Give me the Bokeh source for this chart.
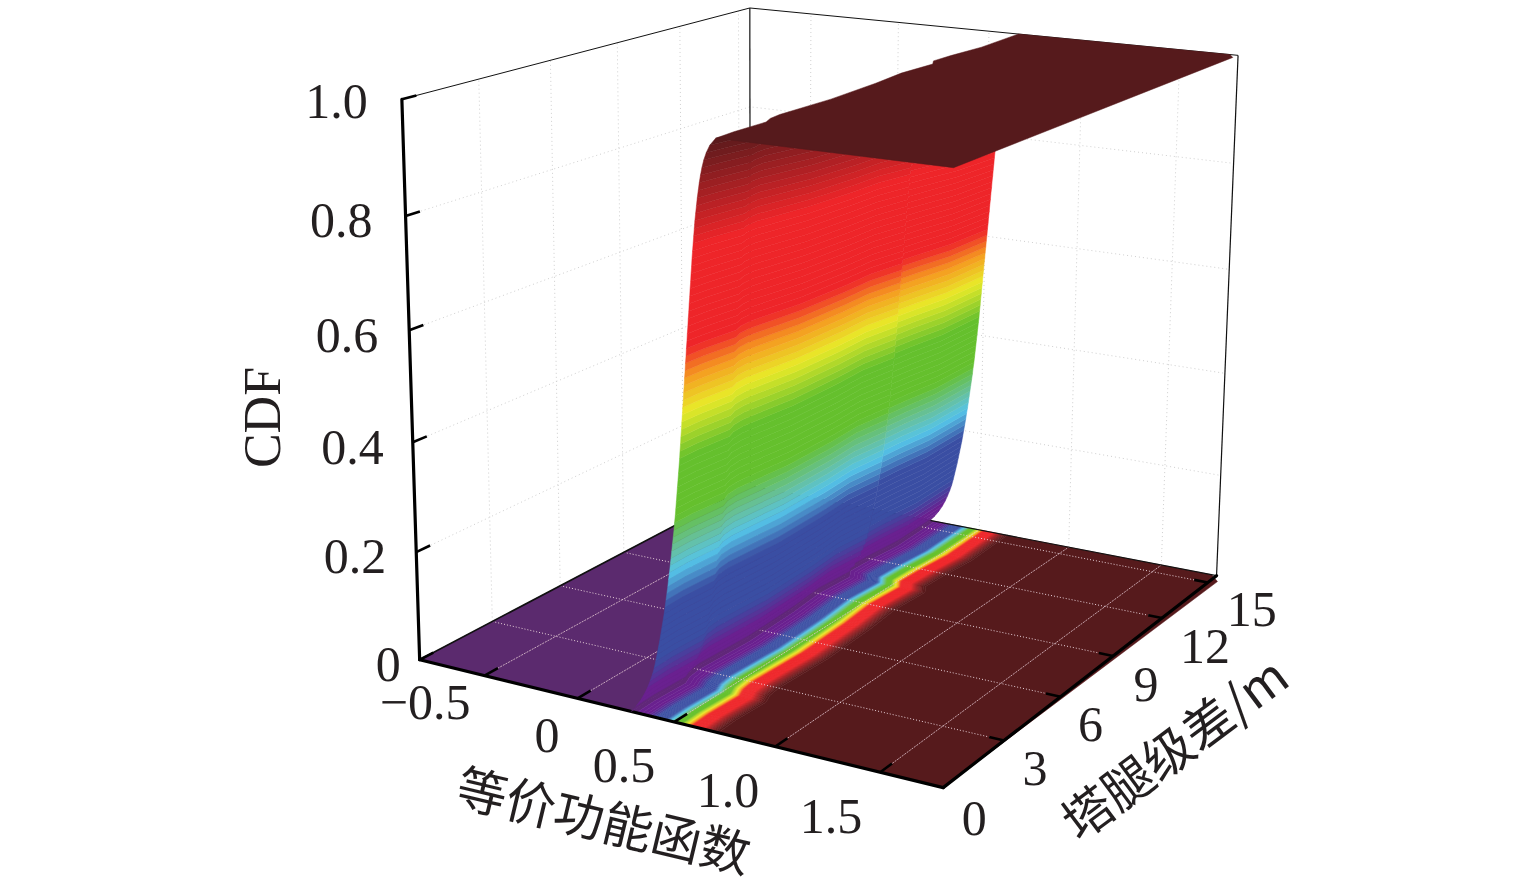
import numpy as np
from bokeh.plotting import figure
from bokeh.core.properties import value
from bokeh.embed import file_html
from bokeh.resources import INLINE

# ---- data ----
x_ticks = [-0.5, 0.0, 0.5, 1.0, 1.5]
x_labels = ["\u22120.5", "0", "0.5", "1.0", "1.5"]
y_ticks = [0, 3, 6, 9, 12, 15]
y_labels = ["0", "3", "6", "9", "12", "15"]
z_ticks = [0.0, 0.2, 0.4, 0.6, 0.8, 1.0]
z_labels = ["0", "0.2", "0.4", "0.6", "0.8", "1.0"]
x_title = "\u7b49\u4ef7\u529f\u80fd\u51fd\u6570"
y_title = "\u5854\u817f\u7ea7\u5dee/m"
z_title = "CDF"

x_min, x_max = -0.86, 1.79
y_min, y_max = 0.0, 15.6

# equivalent function value at which the CDF reaches each of 81 levels, at tower-leg difference 0
x_at_level = [.280, .307, .330, .349, .365, .378, .390, .400, .408, .415, .422, .429, .435, .441, .447, .453,
              .458, .463, .468, .473, .477, .482, .486, .490, .494, .498, .502, .506, .509, .513, .516, .519,
              .522, .525, .528, .531, .534, .537, .539, .542, .544, .547, .549, .552, .554, .557, .559, .562,
              .564, .567, .569, .572, .574, .577, .579, .582, .584, .587, .589, .592, .594, .597, .599, .602,
              .604, .607, .610, .613, .616, .619, .623, .627, .631, .636, .641, .647, .654, .663, .675, .692, .720]
# the same levels as their projected contours appear on the floor
floor_x_at_level = [.280, .307, .330, .349, .365, .378, .390, .400, .408, .415, .422, .429, .435, .441, .447, .453,
                    .458, .463, .468, .473, .477, .482, .486, .490, .494, .498, .502, .506, .509, .513, .516, .519,
                    .522, .525, .528, .531, .534, .537, .540, .544, .548, .552, .556, .560, .564, .567, .570, .573,
                    .576, .579, .582, .585, .589, .593, .597, .601, .605, .609, .613, .617, .621, .625, .629, .633,
                    .637, .641, .645, .649, .653, .657, .661, .665, .669, .673, .678, .683, .688, .694, .700, .708, .720]
cdf_levels = [i / 80 for i in range(81)]
# shift of the surface along the tower-leg difference, and how far its levels sag there
y_nodes = [0, .8, 2.1, 2.5, 3, 5.2, 7.5, 9, 10.5, 10.9, 11.8, 13.3, 15.6]
x_wobble = [0, -.005, .004, -.02, -.029, -.014, -.028, -.049, -.035, -.07, -.066, -.047, -.061]
level_sag = [0, .003, .007, .009, .010, .018, .026, .032, .037, .038, .042, .047, .055]

# colour map of the CDF
cmap_levels = [0, .02, .045, .10, .20, .26, .30, .36, .46, .54, .60, .65, .82, 1.0]
cmap_colors = ["#5b2a6e", "#6a2090", "#6a2090", "#3a4ea3", "#3a4ea3", "#55c4e8", "#66c0a0", "#65c02d",
               "#65c02d", "#e8ea28", "#f59a20", "#ee2529", "#ee2529", "#561a1c"]

# ---- projection: box corners (u, v, w) to page pixels ----
corner_uvw = np.array([[0,0,0],[1,0,0],[1,1,0],[0,1,0],[0,0,1],[1,0,1],[1,1,1],[0,1,1]], float)
corner_px = np.array([[421,661],[942,787],[1217,575],[748,484],[401,99],[952,165],[1238,57],[750,7]], float)
rows = []
for (u, v, w), (a, b) in zip(corner_uvw, corner_px):
    rows.append([u, v, w, 1, 0, 0, 0, 0, -a*u, -a*v, -a*w, -a])
    rows.append([0, 0, 0, 0, u, v, w, 1, -b*u, -b*v, -b*w, -b])
P = np.linalg.svd(np.array(rows))[2][-1].reshape(3, 4)

def proj(x, y, z):
    x, y, z = np.broadcast_arrays(np.asarray(x, float), np.asarray(y, float), np.asarray(z, float))
    q = P @ np.vstack([(x-x_min)/(x_max-x_min), (y-y_min)/(y_max-y_min), z, np.ones_like(x, dtype=float)])
    return (q[0]/q[2]).tolist(), (q[1]/q[2]).tolist()

def hex2rgb(h):
    return np.array([int(h[i:i+2], 16) for i in (1, 3, 5)], float)
cm = np.array([hex2rgb(c) for c in cmap_colors])
def colour(z):
    return "#%02x%02x%02x" % tuple(int(round(np.interp(z, cmap_levels, cm[:, k]))) for k in range(3))

p = figure(width=1535, height=885, x_range=(0, 1535), y_range=(885, 0), output_backend="svg",
           toolbar_location=None, x_axis_type=None, y_axis_type=None, min_border=0, outline_line_color=None)
p.grid.visible = False

# ---- wall grids ----
gx, gy = [], []
for y in y_ticks[1:]:
    a, b = proj([x_min, x_min], [y, y], [0, 1]); gx.append(a); gy.append(b)
for x in x_ticks:
    a, b = proj([x, x], [y_max, y_max], [0, 1]); gx.append(a); gy.append(b)
for z in z_ticks[1:-1]:
    a, b = proj([x_min, x_min, x_max], [y_min, y_max, y_max], [z, z, z]); gx.append(a); gy.append(b)
p.multi_line(gx, gy, line_color="#cfcfcf", line_width=1, line_dash="1 3")

# ---- floor ----
ys = np.array(y_nodes, float)
wob = np.array(x_wobble, float)
sag = np.array(level_sag, float)
xa = np.array(x_at_level)
xf = np.array(floor_x_at_level)
fx, fy = proj([x_min, x_min], [y_min, y_max], 0)
a, b = proj(xf[0] + wob[::-1], ys[::-1], 0)
p.patch(fx + a, fy + b, fill_color=colour(0), line_color=colour(0), line_width=0.5)
floor_end_x = [x_max, x_max + .035, x_max - .025]
floor_end_y = [y_min, 15.2, y_max]
a, b = proj(list(floor_end_x) + list(xf[-1] + wob[::-1]), list(floor_end_y) + list(ys[::-1]), 0)
p.patch(a, b, fill_color=colour(1), line_color=colour(1), line_width=0.5)

bx, by, bc = [], [], []
for i in range(len(xf) - 1):
    a1, b1 = proj(xf[i] + wob, ys, 0)
    a2, b2 = proj(xf[i+1] + wob[::-1], ys[::-1], 0)
    bx.append(a1 + a2); by.append(b1 + b2); bc.append(colour((cdf_levels[i] + cdf_levels[i+1]) / 2))
p.patches(bx, by, fill_color=bc, line_color=bc, line_width=0.5)

# ---- floor grid ----
gx, gy = [], []
for x in x_ticks:
    a, b = proj([x, x], [y_min, y_max], 0); gx.append(a); gy.append(b)
p.multi_line(gx, gy, line_color="#e3c8d2", line_width=0.8, line_dash="2 1")
gx, gy = [], []
for y in y_ticks[1:]:
    a, b = proj([x_min, x_max], [y, y], 0); gx.append(a); gy.append(b)
p.multi_line(gx, gy, line_color="#e8d2da", line_width=1, line_dash="1 2")

# ---- box edges ----
for (xs_, ys_, zs_, w_) in [
    ([x_min, x_min], [y_max, y_max], [0, 1], 1.2),
    ([x_max, x_max], [y_max, y_max], [0, 1], 1.2),
    ([x_min, x_min], [y_min, y_max], [1, 1], 1.0),
    ([x_min, x_max], [y_max, y_max], [1, 1], 1.0),
    ([x_min, x_min], [y_min, y_max], [0, 0], 1.6),
    ([x_min, x_max], [y_max, y_max], [0, 0], 1.2),
]:
    a, b = proj(xs_, ys_, zs_)
    p.line(a, b, line_color="#111111", line_width=w_)

for (xs_, ys_, zs_) in [
    ([x_min, x_min], [y_min, y_min], [0, 1]),
    ([x_min, x_max], [y_min, y_min], [0, 0]),
    ([x_max, x_max], [y_min, y_max], [0, 0]),
]:
    a, b = proj(xs_, ys_, zs_)
    p.line(a, b, line_color="#000000", line_width=3.2, line_cap="round")

tx, ty = [], []
for x in x_ticks:
    a, b = proj([x, x], [0, .55], 0); tx.append(a); ty.append(b)
for y in y_ticks[1:]:
    a, b = proj([x_max, x_max - .07], [y, y], 0); tx.append(a); ty.append(b)
for z in z_ticks:
    a, b = proj([x_min, x_min], [0, .55], z); tx.append(a); ty.append(b)
p.multi_line(tx, ty, line_color="#000000", line_width=2.6)

# ---- surface wall, then plateau in front of it ----
bx, by, bc = [], [], []
for i in range(len(xa) - 1):
    a1, b1 = proj(xa[i] + wob, ys, cdf_levels[i] * (1 - sag))
    a2, b2 = proj(xa[i+1] + wob[::-1], ys[::-1], cdf_levels[i+1] * (1 - sag[::-1]))
    bx.append(a1 + a2); by.append(b1 + b2); bc.append(colour((cdf_levels[i] + cdf_levels[i+1]) / 2))
p.patches(bx, by, fill_color=bc, line_color=bc, line_width=0.5)

plateau_end_x = [x_max, x_max, x_max - .04]
plateau_end_y = [y_min, 15.25, y_max]
a, b = proj(plateau_end_x + list(xa[-1] + wob[::-1]), plateau_end_y + list(ys[::-1]), 1)
p.patch(a, b, fill_color=colour(1), line_color=colour(1), line_width=0.5)

# ---- texts ----
FONT = value("Liberation Serif")
INK = "#231f20"
a, b = proj(x_ticks, 0, 0)
p.text(np.array(a) + np.array([-14, -18, -19, -16, -18]), np.array(b) + np.array([27, 37, 44, 44, 44]), text=x_labels,
       text_font=FONT, text_font_size="50px", text_color=INK, text_align="right", text_baseline="middle")
a, b = proj(x_max, y_ticks, 0)
p.text(np.array(a) + np.array([31, 31, 30, 33, 43, 44]), np.array(b) + np.array([31, 28, 28, 29, 28, 27]),
       text=y_labels, text_font=FONT, text_font_size="50px", text_color=INK,
       text_align="center", text_baseline="middle")
a, b = proj(x_min, 0, z_ticks)
p.text(np.array(a) + np.array([-19, -30, -29, -31, -33, -34]), np.array(b) + np.array([5, 4, 5, 5, 5, 2]),
       text=z_labels, text_font=FONT, text_font_size="50px", text_color=INK,
       text_align="right", text_baseline="middle")
p.text([262], [417], text=[z_title], text_font=FONT, text_font_size="52px", text_color=INK, angle=np.pi/2,
       text_align="center", text_baseline="middle")
CJK = value("Noto Sans CJK SC")
p.text([604], [817], text=[x_title], text_font=CJK, text_font_size="50px", text_font_style="normal",
       text_color=INK, angle=-0.235, text_align="center", text_baseline="middle")
p.text([1172], [745], text=[y_title], text_font=CJK, text_font_size="50px", text_color=INK, angle=0.64,
       text_align="center", text_baseline="middle")

open("out.html", "w").write(file_html(p, INLINE))
